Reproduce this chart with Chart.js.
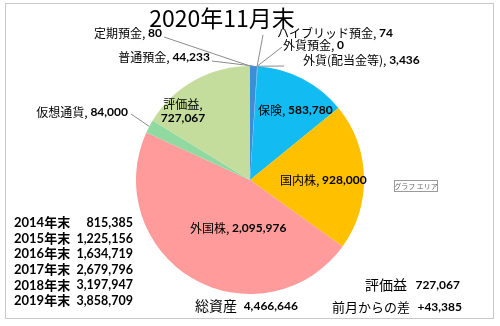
<!DOCTYPE html>
<html>
<head>
<meta charset="utf-8">
<script src="https://cdn.jsdelivr.net/npm/chart.js@4"></script>
<style>
  html, body { margin: 0; padding: 0; background: #fff; }
  #wrap { position: relative; width: 500px; height: 326px; }
  #frame { position: absolute; left: 5px; top: 3px; width: 489px; height: 316px; border: 1px solid #c8c8c8; box-sizing: border-box; }
  canvas { position: absolute; left: 0; top: 0; }
</style>
</head>
<body>
<div id="wrap">
  <div id="frame"></div>
  <canvas id="myChart" width="500" height="326"></canvas>
</div>
<script>
// DATA
var categories = ['定期預金', '普通預金', 'ハイブリッド預金', '外貨預金', '外貨(配当金等)', '保険', '国内株', '外国株', '仮想通貨', '評価益'];
var amounts = [80, 44233, 74, 0, 3436, 583780, 928000, 2095976, 84000, 727067];
var sliceColors = ['#3b8fd8', '#3b8fd8', '#5aa0e0', '#5aa0e0', '#4aa8e8', '#12bcf2', '#ffc000', '#ff9b9b', '#90d9a0', '#c4dd9c'];

var yearLabels = ['2014年末', '2015年末', '2016年末', '2017年末', '2018年末', '2019年末'];
var yearTotals = ['815,385', '1,225,156', '1,634,719', '2,679,796', '3,197,947', '3,858,709'];

var titleText = '2020年11月末';
var totalText = '4,466,646';
var gainText = '727,067';
var diffText = '+43,385';

// LABEL LAYOUT (text position, alignment, leader line or not)
var labelLayout = [
  { x: 162, y: 33, align: 'right', leader: [164, 37] },
  { x: 210, y: 57, align: 'right', leader: [212, 61] },
  { x: 277, y: 33, align: 'left', leader: [263, 35] },
  { x: 283, y: 45, align: 'left', leader: [282, 47] },
  { x: 303, y: 60, align: 'left', leader: [284, 66] },
  { x: 258, y: 110, align: 'left' },
  { x: 280, y: 180, align: 'left' },
  { x: 190, y: 228, align: 'left' },
  { x: 128, y: 112, align: 'right', leader: [131, 114] },
  { x: 183, y: 104, align: 'center', twoLine: true }
];

var jpFont = '"Noto Sans CJK JP", sans-serif';
var numFont = 'Lato, "Noto Sans CJK JP", sans-serif';

function fmt(v) {
    return v.toLocaleString('en-US');
}

// draws "name, value" with a plain name and a bold value
function drawLabel(ctx, name, value, x, y, align, size) {
    ctx.font = size + 'px ' + jpFont;
    var w1 = ctx.measureText(name + ', ').width;
    ctx.font = 'bold ' + size + 'px ' + numFont;
    var w2 = ctx.measureText(value).width;
    var sx = x;
    if (align == 'right') sx = x - w1 - w2;
    if (align == 'center') sx = x - (w1 + w2) / 2;
    ctx.textAlign = 'left';
    ctx.font = size + 'px ' + jpFont;
    ctx.fillText(name + ', ', sx, y);
    ctx.font = 'bold ' + size + 'px ' + numFont;
    ctx.fillText(value, sx + w1, y);
}

const labelPlugin = {
    id: 'sliceLabels',
    afterDatasetsDraw(chart) {
        var ctx = chart.ctx;
        var meta = chart.getDatasetMeta(0);
        ctx.save();
        ctx.textBaseline = 'middle';
        ctx.fillStyle = '#000';
        meta.data.forEach(function (arc, i) {
            var lay = labelLayout[i];
            var p = arc.getProps(['x', 'y', 'startAngle', 'endAngle', 'outerRadius'], true);
            if (lay.leader) {
                var mid = (p.startAngle + p.endAngle) / 2;
                var ex = p.x + Math.cos(mid) * p.outerRadius;
                var ey = p.y + Math.sin(mid) * p.outerRadius;
                ctx.strokeStyle = '#8c8c8c';
                ctx.lineWidth = 1;
                ctx.beginPath();
                ctx.moveTo(lay.leader[0], lay.leader[1]);
                ctx.lineTo(ex, ey);
                ctx.stroke();
            }
            if (lay.twoLine) {
                ctx.textAlign = 'center';
                ctx.font = '12px ' + jpFont;
                ctx.fillText(categories[i] + ',', lay.x, lay.y);
                ctx.font = 'bold 12px ' + numFont;
                ctx.fillText(fmt(amounts[i]), lay.x, lay.y + 14);
            } else {
                drawLabel(ctx, categories[i], fmt(amounts[i]), lay.x, lay.y, lay.align, 12);
            }
        });
        ctx.restore();
    }
};

const textPlugin = {
    id: 'extraText',
    afterDraw(chart) {
        var ctx = chart.ctx;
        ctx.save();
        ctx.fillStyle = '#000';
        ctx.textBaseline = 'middle';

        // title
        ctx.textAlign = 'center';
        ctx.font = '23px ' + jpFont;
        ctx.fillText(titleText, 222, 18);

        // yearly totals
        for (var i = 0; i < yearLabels.length; i++) {
            var y = 223 + i * 15.6;
            ctx.textAlign = 'left';
            ctx.font = 'bold 13px ' + numFont;
            ctx.fillText(yearLabels[i], 14, y);
            ctx.textAlign = 'right';
            ctx.font = 'bold 12.5px ' + numFont;
            ctx.fillText(yearTotals[i], 133, y);
        }

        // totals at bottom
        ctx.textAlign = 'left';
        ctx.font = '14px ' + jpFont;
        ctx.fillText('総資産', 195, 306);
        ctx.fillText('評価益', 365, 285);
        ctx.font = '13px ' + jpFont;
        ctx.fillText('前月からの差', 332, 307);
        ctx.textAlign = 'right';
        ctx.font = 'bold 12px ' + numFont;
        ctx.fillText(totalText, 298, 306);
        ctx.fillText(gainText, 460, 285);
        ctx.fillText(diffText, 462, 307);

        // excel hover tip
        ctx.fillStyle = '#fff';
        ctx.fillRect(394, 180, 43, 11);
        ctx.strokeStyle = '#9a9a9a';
        ctx.lineWidth = 1;
        ctx.strokeRect(394.5, 180.5, 43, 11);
        ctx.fillStyle = '#666';
        ctx.textAlign = 'center';
        ctx.font = '7px ' + jpFont;
        ctx.fillText('グラフ エリア', 416, 186);
        ctx.restore();
    }
};

const mainChart = new Chart('myChart', {
    type: 'pie',
    data: {
        labels: categories,
        datasets: [{
            data: amounts,
            backgroundColor: sliceColors,
            borderWidth: 0
        }]
    },
    options: {
        responsive: false,
        animation: false,
        layout: { padding: { top: 66, bottom: 32, left: 0, right: 0 } },
        plugins: {
            legend: { display: false },
            tooltip: { enabled: false }
        }
    },
    plugins: [labelPlugin, textPlugin]
});
</script>
</body>
</html>
